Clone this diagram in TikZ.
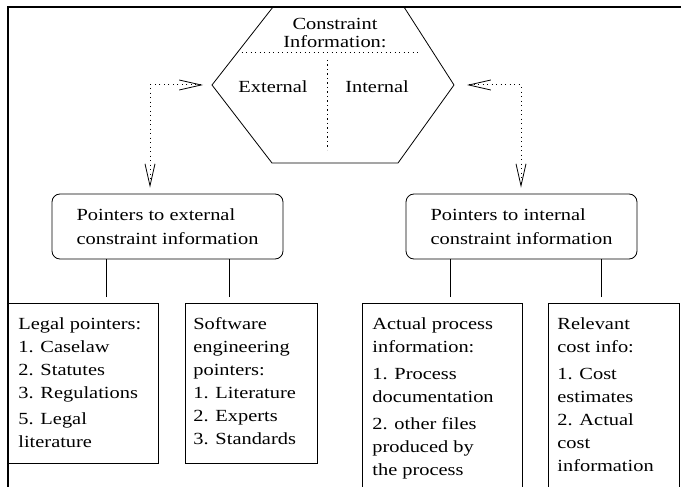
\documentclass[tikz,border=0pt]{standalone}
\usepackage{fontspec}
\setmainfont{Liberation Serif}[FakeStretch=1.2]
\usetikzlibrary{arrows.meta, positioning, calc}

\begin{document}
\begin{tikzpicture}[
	x=1pt, y=-1pt, line width=0.8pt,
	every node/.style={font=\fontsize{17}{23}\selectfont},
	frame/.style={line width=2.2pt},
	ptrbox/.style={rectangle, draw, rounded corners=8pt, minimum width=231pt, minimum height=65pt, align=left, font=\fontsize{17}{24}\selectfont},
	leafbox/.style={rectangle, draw, anchor=north west, minimum height=160pt},
	leaftext/.style={anchor=north west, inner sep=0pt, align=left},
	dotline/.style={dash pattern=on 1.2pt off 3.3pt, line width=1pt},
	dotarrow/.style={dotline, {Straight Barb[length=22pt, width=10pt, line width=0.8pt]}-{Straight Barb[length=22pt, width=10pt, line width=0.8pt]}}
]
	\useasboundingbox (0,0) rectangle (681,487);

	% 1. Hexagon with constraint information
	\coordinate (hexL) at (212,85);
	\coordinate (hexR) at (454,85);
	\draw (273,7) -- (404,7) -- (hexR) -- (398,163) -- (272,163) -- (hexL) -- cycle;
	\node[align=center, font=\fontsize{17}{18}\selectfont] (hextitle) at (335,33) {Constraint\\Information:};
	\draw[dotline] (237,53) -- (420,53);
	\draw[dotline] (327,60) -- (327,150);
	\node (external) at (273,87) {External};
	\node (internal) at (377,87) {Internal};

	% 2. Pointer boxes
	\node[ptrbox] (extptr) at (167.5,226.5) {Pointers to external\\constraint information};
	\node[ptrbox] (intptr) at (521.5,226.5) {Pointers to internal\\constraint information};

	% 3. Leaf boxes
	\node[leafbox, minimum width=150pt] (legal) at (8,303) {};
	\node[leafbox, minimum width=132pt] (softeng) at (185,303) {};
	\node[leafbox, minimum width=160pt, minimum height=200pt] (actproc) at (362,303) {};
	\node[leafbox, minimum width=131pt, minimum height=200pt] (relcost) at (548,303) {};

	\node[leaftext] (legaltxt) at ([shift={(10pt,-14pt)}]legal.north west)
		{Legal pointers:\\1. Caselaw\\2. Statutes\\3. Regulations\\[3pt]5. Legal\\literature};
	\node[leaftext] (softengtxt) at ([shift={(8pt,-14pt)}]softeng.north west)
		{Software\\engineering\\pointers:\\1. Literature\\2. Experts\\3. Standards};
	\node[leaftext] (actproctxt) at ([shift={(10pt,-14pt)}]actproc.north west)
		{Actual process\\information:\\[4pt]1. Process\\documentation\\[4pt]2. other files\\produced by\\the process};
	\node[leaftext] (relcosttxt) at ([shift={(9pt,-14pt)}]relcost.north west)
		{Relevant\\cost info:\\[4pt]1. Cost\\estimates\\2. Actual\\cost\\information};

	% 4. Connectors
	\draw ([xshift=23pt, yshift=6pt]legal.north) -- ([xshift=23pt]legal.north |- extptr.south);
	\draw ([xshift=-22pt, yshift=6pt]softeng.north) -- ([xshift=-22pt]softeng.north |- extptr.south);
	\draw ([xshift=8pt, yshift=6pt]actproc.north) -- ([xshift=8pt]actproc.north |- intptr.south);
	\draw ([xshift=-12.5pt, yshift=6pt]relcost.north) -- ([xshift=-12.5pt]relcost.north |- intptr.south);

	% 5. Dotted arrows from the hexagon
	\coordinate (lbend) at (150,85);
	\coordinate (rbend) at (521,85);
	\draw[dotarrow, shorten <=9pt, shorten >=6pt] (hexL) -- (lbend) -- (lbend |- extptr.north);
	\draw[dotarrow, shorten <=13pt, shorten >=6pt] (hexR) -- (rbend) -- (rbend |- intptr.north);

	% 6. Frame
	\draw[frame] (8,487) -- (8,7) -- (681,7);
\end{tikzpicture}
\end{document}
